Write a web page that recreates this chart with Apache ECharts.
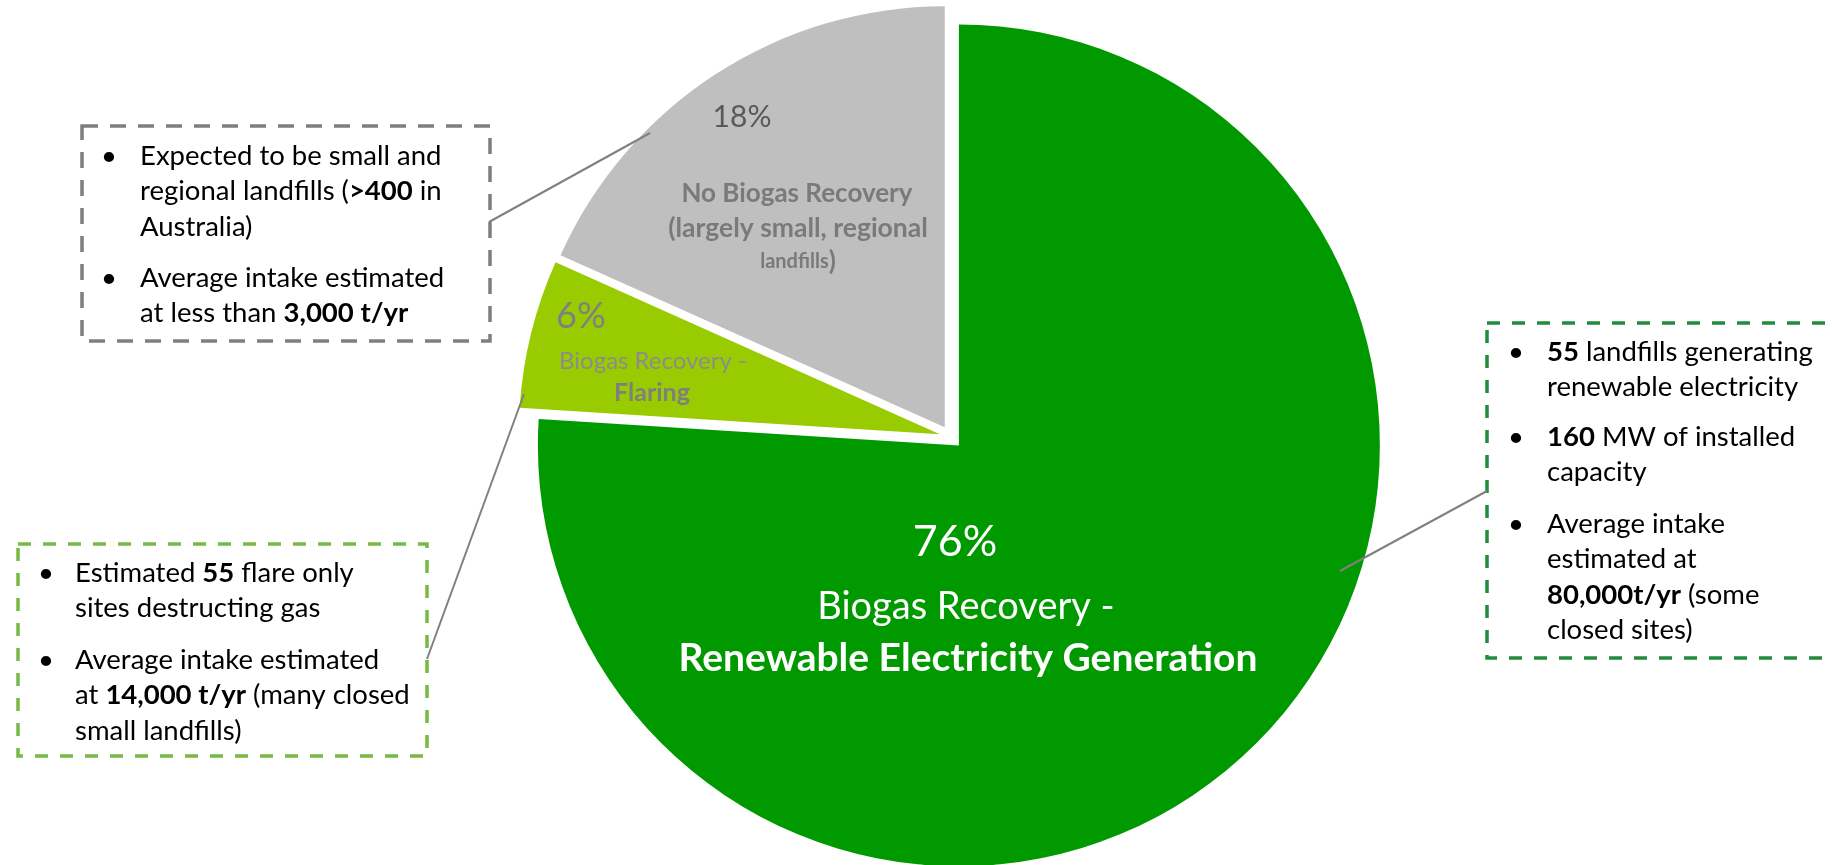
<!DOCTYPE html>
<html>
<head>
<meta charset="utf-8">
<script src="https://cdn.jsdelivr.net/npm/echarts@6/dist/echarts.min.js"></script>
<style>
html,body{margin:0;padding:0;background:#fff;}
#chart{width:1832px;height:865px;}
</style>
</head>
<body>
<div id="chart"></div>
<script>
// ---- data ----
const categories = [
  'Biogas Recovery - Renewable Electricity Generation',
  'Biogas Recovery - Flaring',
  'No Biogas Recovery (largely small, regional landfills)'
];
const shares = [76, 5.7, 18.3];
const sliceColors = ['#009900', '#99cc00', '#bfbfbf'];

// annotation texts (bold parts in {b|...})
const noteNoRecovery = [
  ['Expected to be small and', 'regional landfills ({b|>400} in', 'Australia)'],
  ['Average intake estimated', 'at less than {b|3,000 t/yr}']
];
const noteFlaring = [
  ['Estimated {b|55} flare only', 'sites destructing gas'],
  ['Average intake estimated', 'at {b|14,000 t/yr} (many closed', 'small landfills)']
];
const noteElectricity = [
  ['{b|55} landfills generating', 'renewable electricity'],
  ['{b|160} MW of installed', 'capacity'],
  ['Average intake', 'estimated at', '{b|80,000t/yr} (some', 'closed sites)']
];

// ---- styling / layout ----
const FONT = 'Lato';
const PIE_CENTER = [951, 437];
const PIE_RADIUS = 421;
const total = shares.reduce((a, b) => a + b, 0);
const pct = shares.map(v => Math.round(v / total * 100) + '%');

function txt(x, y, text, o) {
  return {
    type: 'text', x: x, y: y, z: 70,
    style: Object.assign({
      text: text, fontFamily: FONT, align: 'center', verticalAlign: 'middle'
    }, o)
  };
}

const sliceLabels = [
  // green slice
  txt(955, 542, pct[0], {fontSize: 43, fill: '#fff'}),
  txt(966, 607, 'Biogas Recovery -', {fontSize: 38, fill: '#fff'}),
  txt(968, 658, 'Renewable Electricity Generation', {fontSize: 39, fontWeight: 'bold', fill: '#fff'}),
  // flaring slice
  txt(556, 316, pct[1], {fontSize: 36, fill: '#808080', align: 'left'}),
  txt(653, 361, 'Biogas Recovery -', {fontSize: 24, fill: '#8c8c8c'}),
  txt(652, 393, 'Flaring', {fontSize: 25, fontWeight: 'bold', fill: '#7f7f7f'}),
  // no recovery slice
  txt(742, 117, pct[2], {fontSize: 30, fill: '#595959'}),
  txt(797, 194, 'No Biogas Recovery', {fontSize: 26, fontWeight: 'bold', fill: '#7a7a7a'}),
  txt(798, 228, '(largely small, regional', {fontSize: 26.5, fontWeight: 'bold', fill: '#7a7a7a'}),
  txt(798, 262, '{s|landfills}{b|)}', {
    fontSize: 26, fontWeight: 'bold', fill: '#7a7a7a',
    rich: {
      s: {fontFamily: FONT, fontSize: 20, fontWeight: 'bold', fill: '#7a7a7a'},
      b: {fontFamily: FONT, fontSize: 26, fontWeight: 'bold', fill: '#7a7a7a'}
    }
  })
];

function noteGraphics(paras, bulletX, textX, firstCenters, lineH, fontSize) {
  const els = [];
  paras.forEach((lines, i) => {
    const top = firstCenters[i] - lineH / 2;
    els.push({
      type: 'text', x: bulletX, y: top, z: 50,
      style: {text: '•', fontFamily: FONT, fontSize: fontSize, fill: '#000', lineHeight: lineH, verticalAlign: 'top'}
    });
    els.push({
      type: 'text', x: textX, y: top, z: 50,
      style: {
        text: lines.join('\n'),
        fontFamily: FONT, fontSize: fontSize, fill: '#000', lineHeight: lineH, verticalAlign: 'top',
        rich: {b: {fontFamily: FONT, fontSize: fontSize, fontWeight: 'bold', fill: '#000', lineHeight: lineH}}
      }
    });
  });
  return els;
}

const graphics = [
  {type: 'rect', z: 40, shape: {x: 82, y: 126, width: 408, height: 215},
   style: {fill: 'none', stroke: '#7f7f7f', lineWidth: 3.5, lineDash: [16, 12]}},
  {type: 'rect', z: 40, shape: {x: 18, y: 544, width: 409, height: 212},
   style: {fill: 'none', stroke: '#77b846', lineWidth: 3.5, lineDash: [13, 12]}},
  {type: 'rect', z: 40, shape: {x: 1487, y: 323, width: 400, height: 335},
   style: {fill: 'none', stroke: '#228b3c', lineWidth: 3.5, lineDash: [13, 12]}},
  {type: 'line', z: 60, shape: {x1: 489, y1: 222, x2: 650, y2: 133}, style: {stroke: '#808080', lineWidth: 2}},
  {type: 'line', z: 60, shape: {x1: 427, y1: 659, x2: 524, y2: 394}, style: {stroke: '#808080', lineWidth: 2}},
  {type: 'line', z: 60, shape: {x1: 1487, y1: 491, x2: 1340, y2: 571}, style: {stroke: '#808080', lineWidth: 2}}
].concat(
  sliceLabels,
  noteGraphics(noteNoRecovery, 101, 140, [156, 278], 35.5, 27.5),
  noteGraphics(noteFlaring, 38, 75, [573, 660], 35.5, 27.5),
  noteGraphics(noteElectricity, 1508, 1547, [352, 437, 524], 35.5, 27.5)
);

const chart = echarts.init(document.getElementById('chart'), null, {renderer: 'canvas'});
chart.setOption({
  animation: false,
  backgroundColor: '#fff',
  series: [{
    type: 'pie',
    center: PIE_CENTER,
    radius: PIE_RADIUS,
    startAngle: 90,
    clockwise: true,
    selectedMode: 'multiple',
    selectedOffset: 11.5,
    silent: true,
    emphasis: {disabled: true, scale: false},
    itemStyle: {borderWidth: 0},
    label: {show: false},
    labelLine: {show: false},
    data: categories.map((name, i) => ({
      name: name,
      value: shares[i],
      selected: true,
      itemStyle: {color: sliceColors[i]},
      select: {itemStyle: {color: sliceColors[i]}}
    }))
  }],
  graphic: graphics
});
</script>
</body>
</html>
